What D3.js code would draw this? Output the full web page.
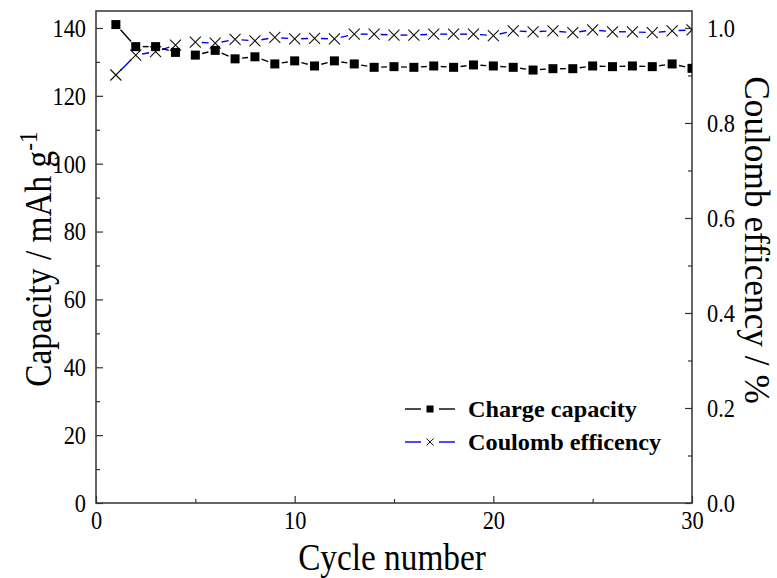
<!DOCTYPE html>
<html>
<head>
<meta charset="utf-8">
<script src="https://cdn.jsdelivr.net/npm/d3@7"></script>
<style>
  html, body { margin: 0; padding: 0; background: #fff; }
  svg { display: block; }
  text { font-family: "Liberation Serif", "Times New Roman", serif; fill: #000; }
</style>
</head>
<body>
<svg id="chart" width="777" height="578"></svg>
<script>
// Cycle data
const cycles = d3.range(1, 31);
const chargeCapacity = [
  141.0, 134.5, 134.5, 132.8, 132.0, 133.4, 130.9, 131.5, 129.4, 130.3,
  128.8, 130.3, 129.4, 128.4, 128.6, 128.4, 128.8, 128.4, 129.1, 128.8,
  128.4, 127.6, 128.0, 128.0, 128.8, 128.6, 128.8, 128.6, 129.4, 128.1
];
const coulombEfficiency = [
  0.901, 0.943, 0.950, 0.964, 0.970, 0.968, 0.976, 0.973, 0.980, 0.977,
  0.978, 0.977, 0.987, 0.987, 0.985, 0.985, 0.987, 0.987, 0.987, 0.984,
  0.994, 0.992, 0.994, 0.990, 0.996, 0.992, 0.992, 0.990, 0.994, 0.996
];
const xTicks = [0, 10, 20, 30];
const xMinor = [5, 15, 25];
const yLeftTicks = [0, 20, 40, 60, 80, 100, 120, 140];
const yLeftMinor = [10, 30, 50, 70, 90, 110, 130];
const yRightTicks = [0, 0.2, 0.4, 0.6, 0.8, 1.0];
const yRightMinor = [0.1, 0.3, 0.5, 0.7, 0.9];
// cycle after which the recorded curve has a break
const breakAfter = 4;

const svg = d3.select("#chart");
const L = 96, R = 692, T = 11, B = 503;

const x = d3.scaleLinear().domain([0, 30]).range([L, R]);
const yL = d3.scaleLinear().domain([0, 145]).range([B, T]);
const yR = d3.scaleLinear().domain([0, 145 / 140]).range([B, T]);

const frameColor = "#333";

// narrow the serif glyphs horizontally, the way the figure's typeface runs
function condense(sel, k) {
  sel.each(function () {
    const len = this.getComputedTextLength();
    this.setAttribute("textLength", (len * k).toFixed(2));
    this.setAttribute("lengthAdjust", "spacingAndGlyphs");
  });
}

svg.append("defs").append("clipPath").attr("id", "plotClip")
  .append("rect").attr("x", L).attr("y", T).attr("width", R - L).attr("height", B - T);

function styleAxis(g) {
  g.attr("font-family", null);
  g.selectAll(".domain").remove();
  g.selectAll(".tick line").attr("stroke", frameColor).attr("stroke-width", 1.2);
  g.selectAll(".tick text").style("font-size", "26px").call(condense, 0.86);
}

svg.append("g").attr("transform", `translate(0,${B})`)
  .call(d3.axisBottom(x).tickValues(xTicks).tickSizeInner(-7).tickSizeOuter(0).tickPadding(8).tickFormat(d3.format("d")))
  .call(styleAxis);
svg.append("g").attr("transform", `translate(0,${B})`)
  .call(d3.axisBottom(x).tickValues(xMinor).tickSizeInner(-4).tickSizeOuter(0).tickFormat(""))
  .call(styleAxis);

svg.append("g").attr("transform", `translate(${L},0)`)
  .call(d3.axisLeft(yL).tickValues(yLeftTicks).tickSizeInner(-7).tickSizeOuter(0).tickPadding(10).tickFormat(d3.format("d")))
  .call(styleAxis);
svg.append("g").attr("transform", `translate(${L},0)`)
  .call(d3.axisLeft(yL).tickValues(yLeftMinor).tickSizeInner(-4).tickSizeOuter(0).tickFormat(""))
  .call(styleAxis);

svg.append("g").attr("transform", `translate(${R},0)`)
  .call(d3.axisRight(yR).tickValues(yRightTicks).tickSizeInner(-7).tickSizeOuter(0).tickPadding(15).tickFormat(d3.format(".1f")))
  .call(styleAxis);
svg.append("g").attr("transform", `translate(${R},0)`)
  .call(d3.axisRight(yR).tickValues(yRightMinor).tickSizeInner(-4).tickSizeOuter(0).tickFormat(""))
  .call(styleAxis);

// plot frame
svg.append("rect").attr("x", L).attr("y", T).attr("width", R - L).attr("height", B - T)
  .attr("fill", "none").attr("stroke", frameColor).attr("stroke-width", 1.5);

const plot = svg.append("g").attr("clip-path", "url(#plotClip)");

// line segments between neighbours, trimmed so markers sit in a small gap
function gappedSegments(ys, scaleY, gap) {
  const segs = [];
  for (let i = 0; i < cycles.length - 1; i++) {
    if (cycles[i] === breakAfter) continue;
    const x1 = x(cycles[i]), y1 = scaleY(ys[i]);
    const x2 = x(cycles[i + 1]), y2 = scaleY(ys[i + 1]);
    const dx = x2 - x1, dy = y2 - y1, len = Math.hypot(dx, dy);
    if (len <= 2 * gap) continue;
    const ux = dx / len, uy = dy / len;
    segs.push([x1 + ux * gap, y1 + uy * gap, x2 - ux * gap, y2 - uy * gap]);
  }
  return segs;
}

// Coulomb efficiency
plot.append("g").selectAll("line")
  .data(gappedSegments(coulombEfficiency, yR, 6.5))
  .join("line")
  .attr("x1", d => d[0]).attr("y1", d => d[1]).attr("x2", d => d[2]).attr("y2", d => d[3])
  .attr("stroke", "#0000ee").attr("stroke-width", 1.4);

const cs = 5.5;
plot.append("g").selectAll("path")
  .data(cycles.map((c, i) => [x(c), yR(coulombEfficiency[i])]))
  .join("path")
  .attr("d", d => `M${d[0] - cs},${d[1] - cs}L${d[0] + cs},${d[1] + cs}M${d[0] - cs},${d[1] + cs}L${d[0] + cs},${d[1] - cs}`)
  .attr("stroke", "#111").attr("stroke-width", 1.1).attr("fill", "none");

// Charge capacity
plot.append("g").selectAll("line")
  .data(gappedSegments(chargeCapacity, yL, 7))
  .join("line")
  .attr("x1", d => d[0]).attr("y1", d => d[1]).attr("x2", d => d[2]).attr("y2", d => d[3])
  .attr("stroke", "#000").attr("stroke-width", 1.4);

const sq = 9;
plot.append("g").selectAll("rect")
  .data(cycles.map((c, i) => [x(c), yL(chargeCapacity[i])]))
  .join("rect")
  .attr("x", d => d[0] - sq / 2).attr("y", d => d[1] - sq / 2)
  .attr("width", sq).attr("height", sq).attr("fill", "#000");

// legend
const legend = svg.append("g");
const rows = [
  { label: "Charge capacity", color: "#000", marker: "square", y: 409 },
  { label: "Coulomb efficency", color: "#0000ee", marker: "cross", y: 442 }
];
rows.forEach(r => {
  legend.append("line").attr("x1", 405).attr("x2", 421).attr("y1", r.y).attr("y2", r.y)
    .attr("stroke", r.color).attr("stroke-width", 1.4);
  legend.append("line").attr("x1", 439).attr("x2", 455).attr("y1", r.y).attr("y2", r.y)
    .attr("stroke", r.color).attr("stroke-width", 1.4);
  if (r.marker === "square") {
    legend.append("rect").attr("x", 430 - 3.5).attr("y", r.y - 3.5).attr("width", 7).attr("height", 7).attr("fill", "#000");
  } else {
    const c = 3.5, cx = 430, cy = r.y;
    legend.append("path")
      .attr("d", `M${cx - c},${cy - c}L${cx + c},${cy + c}M${cx - c},${cy + c}L${cx + c},${cy - c}`)
      .attr("stroke", "#111").attr("stroke-width", 1).attr("fill", "none");
  }
  legend.append("text").attr("x", 468).attr("y", r.y).attr("dy", "0.35em")
    .style("font-size", "24px").style("font-weight", "bold").text(r.label)
    .call(condense, 1.01);
});

// axis titles
svg.append("text").attr("x", (L + R) / 2 - 2).attr("y", 570)
  .attr("text-anchor", "middle").style("font-size", "37px").text("Cycle number")
  .call(condense, 0.9);

const leftTitle = svg.append("text")
  .attr("transform", `translate(51,${(T + B) / 2 + 2}) rotate(-90)`)
  .attr("text-anchor", "middle").style("font-size", "37px");
leftTitle.append("tspan").text("Capacity / mAh g");
leftTitle.append("tspan").attr("dy", "-0.55em").style("font-size", "26px").text("-1");
leftTitle.call(condense, 0.9);

svg.append("text")
  .attr("transform", `translate(745,240) rotate(90)`)
  .attr("text-anchor", "middle").style("font-size", "36px").text("Coulomb efficency / %")
  .call(condense, 0.98);
</script>
</body>
</html>
